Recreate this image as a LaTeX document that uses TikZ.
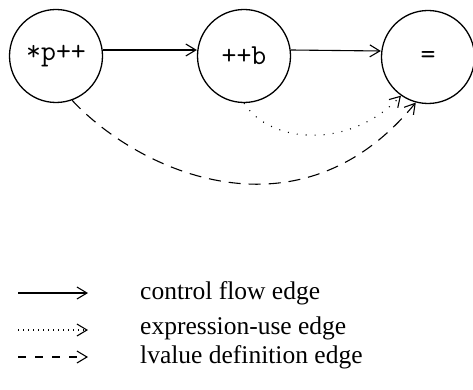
\documentclass[tikz,border=0pt]{standalone}
\usepackage{fontspec}
\setmainfont{Liberation Serif}
\usetikzlibrary{arrows.meta}
\begin{document}
\begin{tikzpicture}[x=1pt,y=-1pt,
  state/.style={circle,draw,line width=1.3pt,minimum size=93pt,inner sep=0pt,font=\ttfamily\fontsize{29}{29}\selectfont},
  arr/.style={line width=1.1pt,-{Straight Barb[length=10pt,width=12pt,line width=1.1pt]}},
  dotline/.style={dash pattern=on 1pt off 8pt},
  legdot/.style={dash pattern=on 1pt off 4pt},
  dashline/.style={dash pattern=on 12pt off 8pt},
  legtext/.style={anchor=west,font=\fontsize{25.5}{25.5}\selectfont,inner sep=0pt}]
\useasboundingbox (0,0) rectangle (473,390);
\node[state] (p) at (56,56) {*p++};
\node[state] (b) at (244,56) {++b};
\node[state] (e) at (428,57) {=};
\draw[arr] ([yshift=6pt]p.east) -- ([yshift=6pt]b.west);
\draw[arr] ([yshift=6pt]b.east) -- ([yshift=6pt]e.west);
\draw[arr,dotline] (b.-90) .. controls (270,144) and (350,150) .. (e.-125);
\draw[arr,dashline] (p.-70) .. controls (140,173) and (300,244) .. (e.-105);
% legend
\coordinate (l1a) at (18,293); \coordinate (l1b) at (88,293);
\coordinate (l2a) at (18,330); \coordinate (l2b) at (88,330);
\coordinate (l3a) at (18,357); \coordinate (l3b) at (88,357);
\draw[arr] (l1a) -- (l1b);
\draw[arr,legdot] (l2a) -- (l2b);
\draw[arr,dash pattern=on 8pt off 9pt] (l3a) -- (l3b);
\node[legtext] (t1) at (140,293) {control flow edge};
\node[legtext] (t2) at (140,328) {expression-use edge};
\node[legtext] (t3) at (140,357) {lvalue definition edge};
\end{tikzpicture}
\end{document}
